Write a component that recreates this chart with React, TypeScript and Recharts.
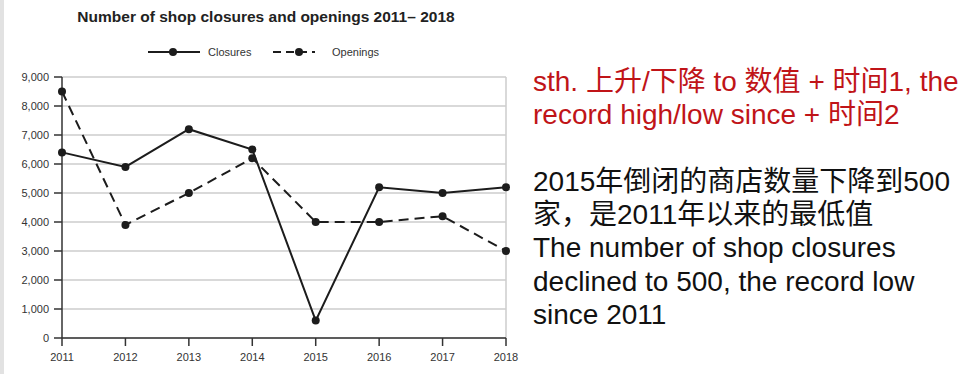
import React from 'react';
import { LineChart, Line, XAxis, YAxis, CartesianGrid, ReferenceLine } from 'recharts';

// values
const years = ['2011', '2012', '2013', '2014', '2015', '2016', '2017', '2018'];
const closures = [6400, 5900, 7200, 6500, 600, 5200, 5000, 5200];
const openings = [8500, 3900, 5000, 6200, 4000, 4000, 4200, 3000];
const yTicks = [0, 1000, 2000, 3000, 4000, 5000, 6000, 7000, 8000, 9000];

const seriesNames = ['Closures', 'Openings'];
const seriesDash = ['', '10 6'];

const noteRed = ['sth. 上升/下降 to 数值 + 时间1, the', 'record high/low since + 时间2'];
const noteBlack = [
  '2015年倒闭的商店数量下降到500',
  '家，是2011年以来的最低值',
  'The number of shop closures',
  'declined to 500, the record low',
  'since 2011',
];

const data = years.map((year, i) => ({ year, Closures: closures[i], Openings: openings[i] }));

const FONT = '"Liberation Sans", Arial, Helvetica, sans-serif';
const INK = '#1c1c1c';

const Legend = () => (
  <svg width={260} height={16} style={{ position: 'absolute', left: 140, top: 44 }}>
    {/* closures */}
    <line x1={8} y1={8} x2={60} y2={8} stroke={INK} strokeWidth={2} />
    <circle cx={33} cy={8} r={4} fill={INK} />
    <text x={68} y={12} fontSize={11} fill="#333" fontFamily={FONT}>
      {seriesNames[0]}
    </text>
    {/* openings */}
    <line x1={133} y1={8} x2={175} y2={8} stroke={INK} strokeWidth={2} strokeDasharray="8 5" />
    <circle cx={159} cy={8} r={4} fill={INK} />
    <text x={192} y={12} fontSize={11} fill="#333" fontFamily={FONT}>
      {seriesNames[1]}
    </text>
  </svg>
);

const App = () => {
  return (
    <div style={{ position: 'absolute', left: 0, top: 0, width: 964, height: 374, background: '#fff', overflow: 'hidden' }}>
      {/* grey strip on the left edge */}
      <div style={{ position: 'absolute', left: 0, top: 0, width: 4, height: 374, background: '#e2e2e2' }} />

      <div
        style={{
          position: 'absolute',
          left: 0,
          width: 532,
          top: 8,
          textAlign: 'center',
          fontFamily: FONT,
          fontWeight: 'bold',
          fontSize: 15.5,
          color: '#222',
          whiteSpace: 'nowrap',
        }}
      >
        Number of shop closures and openings 2011– 2018
      </div>

      <Legend />

      <div style={{ position: 'absolute', left: 0, top: 0 }}>
        <LineChart width={520} height={374} data={data} margin={{ top: 77, right: 14, bottom: 0, left: 0 }}>
          <CartesianGrid vertical={false} stroke="#cccccc" strokeWidth={1.5} />
          <ReferenceLine x="2018" stroke="#cccccc" strokeWidth={1.5} />
          <XAxis
            dataKey="year"
            height={36}
            tickSize={8}
            tickMargin={7}
            axisLine={{ stroke: '#333', strokeWidth: 1.5 }}
            tickLine={{ stroke: '#333', strokeWidth: 1.5 }}
            tick={{ fontSize: 11, fill: '#333', fontFamily: FONT }}
            interval={0}
          />
          <YAxis
            width={62}
            domain={[0, 9000]}
            ticks={yTicks}
            tickSize={8}
            tickMargin={5}
            tickFormatter={(v: number) => v.toLocaleString('en-US')}
            axisLine={{ stroke: '#333', strokeWidth: 1.5 }}
            tickLine={{ stroke: '#333', strokeWidth: 1.5 }}
            tick={{ fontSize: 11, fill: '#333', fontFamily: FONT }}
          />
          <Line
            dataKey="Openings"
            stroke={INK}
            strokeWidth={2}
            strokeDasharray={seriesDash[1]}
            dot={{ r: 4, fill: INK, stroke: 'none' }}
            isAnimationActive={false}
          />
          <Line
            dataKey="Closures"
            stroke={INK}
            strokeWidth={2}
            dot={{ r: 4, fill: INK, stroke: 'none' }}
            isAnimationActive={false}
          />
        </LineChart>
      </div>

      {/* notes on the right */}
      <div
        style={{
          position: 'absolute',
          left: 533,
          top: 65,
          fontFamily: '"Liberation Sans", Arial, "Noto Sans CJK SC", sans-serif',
          fontSize: 28,
          lineHeight: '33.3px',
          whiteSpace: 'nowrap',
        }}
      >
        {noteRed.map((t, i) => (
          <div key={'r' + i} style={{ color: '#c01418' }}>
            {t}
          </div>
        ))}
        <div style={{ height: 33.3 }} />
        {noteBlack.map((t, i) => (
          <div key={'b' + i} style={{ color: '#111' }}>
            {t}
          </div>
        ))}
      </div>
    </div>
  );
};

export default App;
